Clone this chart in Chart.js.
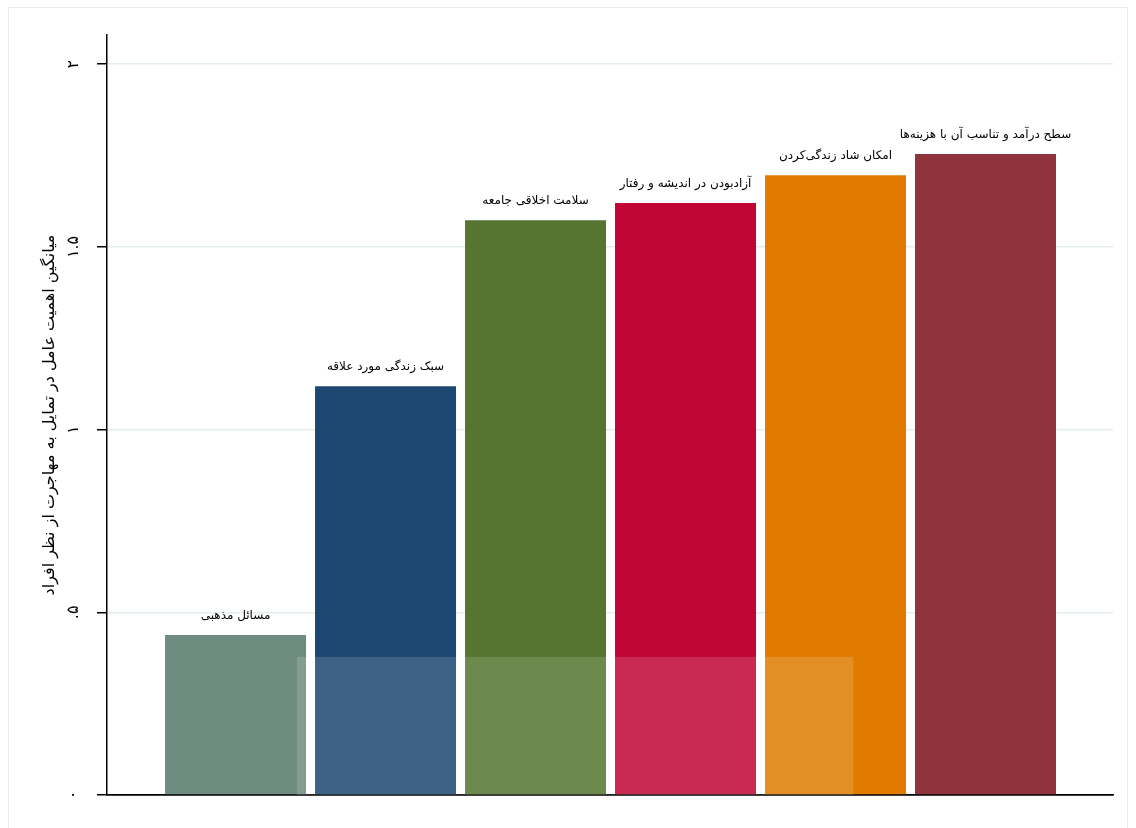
<!DOCTYPE html>
<html>
<head>
<meta charset="utf-8">
<script src="https://cdn.jsdelivr.net/npm/chart.js@4.4.1/dist/chart.umd.min.js"></script>
<style>
  html, body { margin: 0; padding: 0; background: #fff; }
  #wrap { position: relative; width: 1136px; height: 828px; }
  #frame { position: absolute; left: 8px; top: 7px; width: 1120px; height: 830px; border: 1px solid #ebebeb; box-sizing: border-box; }
  canvas { position: absolute; left: 0; top: 0; }
</style>
</head>
<body>
<div id="wrap">
  <div id="frame"></div>
  <canvas id="myChart" width="1136" height="828"></canvas>
</div>
<script>
const labels = [
  'مسائل مذهبی',
  'سبک زندگی مورد علاقه',
  'سلامت اخلاقی جامعه',
  'آزادبودن در اندیشه و رفتار',
  'امکان شاد زندگی‌کردن',
  'سطح درآمد و تناسب آن با هزینه‌ها',
];
const values = [0.438, 1.119, 1.573, 1.620, 1.696, 1.754];
const colors = ['#6e8c7f', '#1c4770', '#557530', '#c10534', '#e07b00', '#8f343d'];
const yTicks = [0, 0.5, 1, 1.5, 2];
const yTickLabels = ['۰', '.۵', '۱', '۱.۵', '۲'];
const yTitle = 'میانگین اهمیت عامل در تمایل به مهاجرت از نظر افراد';

const font = 'DejaVu Sans';

// text above each bar
const barLabels = {
  id: 'barLabels',
  afterDatasetsDraw(chart) {
    const ctx = chart.ctx;
    const meta = chart.getDatasetMeta(0);
    ctx.save();
    ctx.font = '12px "' + font + '"';
    ctx.fillStyle = '#000';
    ctx.textAlign = 'center';
    ctx.textBaseline = 'middle';
    meta.data.forEach((bar, i) => {
      ctx.fillText(labels[i], bar.x, bar.y - 19);
    });
    ctx.restore();
  },
};

// faint watermark box over the lower part of the bars
const watermark = {
  id: 'watermark',
  afterDatasetsDraw(chart) {
    const x = chart.scales.x, y = chart.scales.y;
    const ctx = chart.ctx;
    const l = x.getPixelForValue(1.41), r = x.getPixelForValue(5.12);
    const t = y.getPixelForValue(0.378), b = y.getPixelForValue(0);
    ctx.save();
    ctx.fillStyle = 'rgba(255,255,255,0.15)';
    ctx.fillRect(l, t, r - l, b - t);
    ctx.restore();
  },
};

const data = {
  datasets: [{
    data: values.map((v, i) => ({ x: i + 1, y: v })),
    backgroundColor: colors,
    borderWidth: 0,
    barPercentage: 0.94,
    categoryPercentage: 1,
  }],
};

const config = {
  type: 'bar',
  data,
  plugins: [barLabels, watermark],
  options: {
    responsive: false,
    animation: false,
    layout: { padding: { left: 0, right: 23, top: 35, bottom: 33 } },
    plugins: {
      legend: { display: false },
      tooltip: { enabled: false },
    },
    scales: {
      x: {
        type: 'linear',
        offset: false,
        min: 0.143,
        max: 6.85,
        afterFit(scale) { scale.height = 0; },
        afterBuildTicks(scale) { scale.ticks = values.map((v, i) => ({ value: i + 1 })); },
        ticks: { display: false },
        grid: { display: false },
        border: { color: '#000', width: 1.5 },
      },
      y: {
        min: 0,
        max: 2.08,
        afterFit(scale) { scale.width = 107; },
        afterBuildTicks(scale) { scale.ticks = yTicks.map(v => ({ value: v })); },
        ticks: {
          includeBounds: false,
          minRotation: 90,
          maxRotation: 90,
          crossAlign: 'center',
          padding: 12,
          color: '#000',
          font: { family: font, size: 16 },
          callback: (v) => yTickLabels[yTicks.indexOf(v)],
        },
        grid: {
          color: (c) => c.tick && c.tick.value === 0 ? '#000' : '#e4edee',
          lineWidth: 1.5,
          drawTicks: true,
          tickLength: 10,
          tickColor: '#000',
          tickWidth: 1.5,
        },
        border: { color: '#000', width: 1.5 },
        title: {
          display: true,
          text: yTitle,
          color: '#000',
          font: { family: font, size: 16 },
          padding: { top: 40, bottom: 0 },
        },
      },
    },
  },
};

const ctx = document.getElementById('myChart');
const chart = new Chart(ctx, config);
</script>
</body>
</html>
